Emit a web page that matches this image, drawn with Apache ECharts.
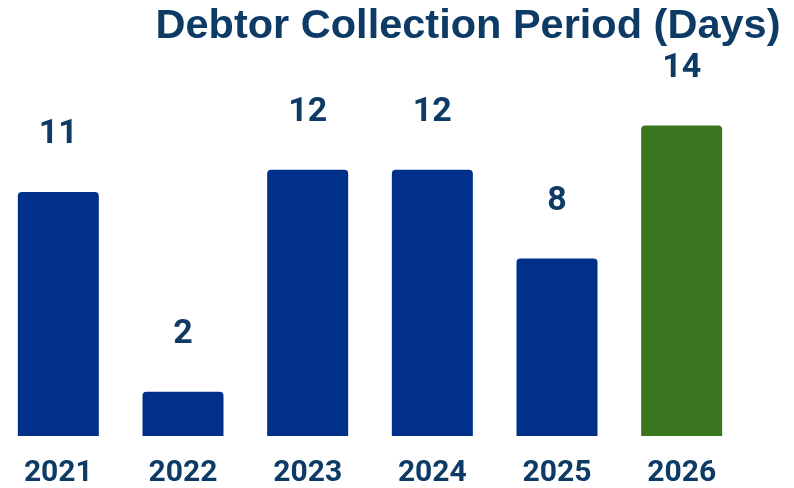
<!DOCTYPE html>
<html>
<head>
<meta charset="utf-8">
<title>Debtor Collection Period</title>
<script src="https://cdn.jsdelivr.net/npm/echarts@6/dist/echarts.min.js"></script>
<style>
  html, body { margin: 0; padding: 0; background: #ffffff; overflow: hidden; }
  /* the plot runs slightly past the left edge of the page */
  #chart { width: 798px; height: 488px; margin-left: -4px; }
</style>
</head>
<body>
<div id="chart"></div>
<script>
// Financial years and debtor collection period in days
const years = ['2021', '2022', '2023', '2024', '2025', '2026'];
const days = [11, 2, 12, 12, 8, 14];
const barColors = ['#00308a', '#00308a', '#00308a', '#00308a', '#00308a', '#3a7520'];

const navy = '#0e3b66';

const chart = echarts.init(document.getElementById('chart'), null, { renderer: 'canvas' });

chart.setOption({
  backgroundColor: '#ffffff',
  animation: false,
  title: {
    text: 'Debtor Collection Period (Days)',
    left: 467,
    top: 1,
    textAlign: 'center',
    textStyle: {
      fontFamily: 'Liberation Sans, Arial, sans-serif',
      fontWeight: 'bold',
      fontSize: 41.5,
      color: navy
    }
  },
  grid: {
    left: 0,
    right: 50,
    top: 81,
    bottom: 51,
    containLabel: false
  },
  xAxis: {
    type: 'category',
    data: years,
    axisLine: { show: false },
    axisTick: { show: false },
    axisLabel: {
      margin: 22,
      fontFamily: 'Roboto, sans-serif',
      fontWeight: 'bold',
      fontSize: 30,
      color: navy
    }
  },
  yAxis: {
    type: 'value',
    min: 0,
    max: 16,
    show: false,
    splitLine: { show: false }
  },
  series: [{
    type: 'bar',
    data: days.map((v, i) => ({ value: v, itemStyle: { color: barColors[i] } })),
    barWidth: 81,
    itemStyle: { borderRadius: [4, 4, 0, 0] },
    label: {
      show: true,
      position: 'top',
      distance: 40,
      fontFamily: 'Roboto, sans-serif',
      fontWeight: 'bold',
      fontSize: 34,
      color: navy
    }
  }]
});
</script>
</body>
</html>
